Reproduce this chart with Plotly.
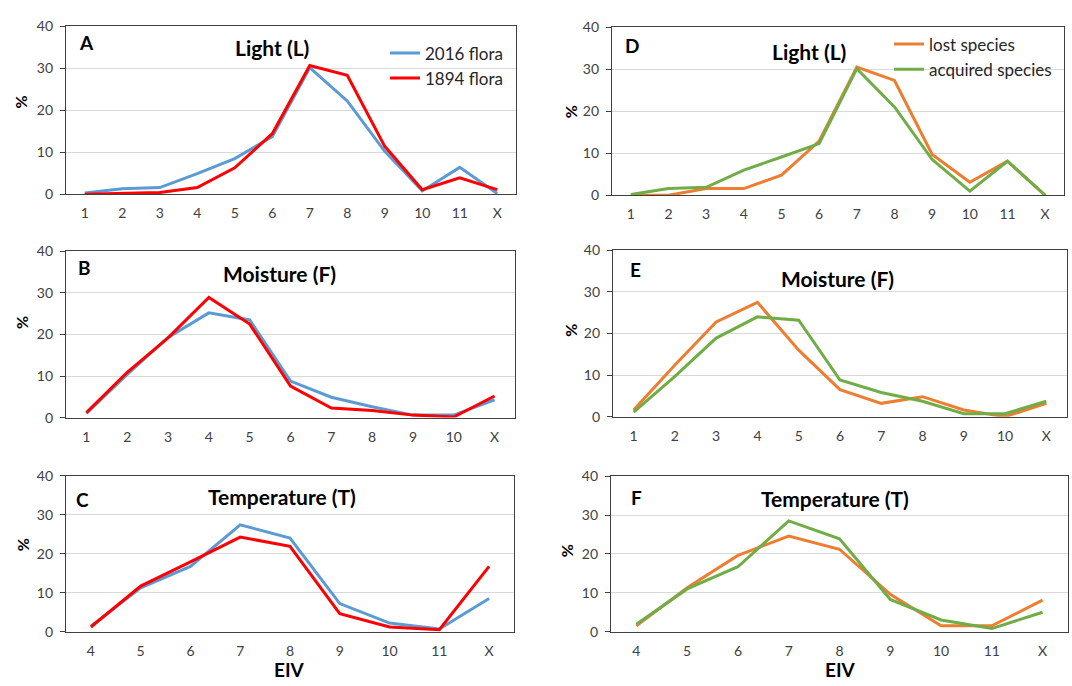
import plotly.graph_objects as go

# ---------------- data ----------------
cats_L = ["1", "2", "3", "4", "5", "6", "7", "8", "9", "10", "11", "X"]
cats_F = ["1", "2", "3", "4", "5", "6", "7", "8", "9", "10", "X"]
cats_T = ["4", "5", "6", "7", "8", "9", "10", "11", "X"]

flora2016_L = [0.3, 1.3, 1.6, 4.9, 8.5, 13.7, 30.1, 22.2, 10.2, 0.8, 6.4, 0.2]
flora1894_L = [0.0, 0.2, 0.4, 1.6, 6.3, 14.4, 30.6, 28.3, 11.4, 1.1, 3.9, 1.1]
flora2016_F = [1.0, 10.4, 19.3, 25.2, 23.5, 8.8, 4.9, 2.6, 0.6, 0.6, 4.3]
flora1894_F = [1.2, 10.9, 19.2, 28.9, 22.5, 7.6, 2.3, 1.7, 0.6, 0.15, 5.2]
flora2016_T = [1.4, 11.25, 16.75, 27.4, 24.0, 7.2, 2.2, 0.7, 8.5]
flora1894_T = [1.2, 11.7, 17.9, 24.25, 21.9, 4.6, 1.2, 0.5, 16.75]

lost_L = [0.0, 0.0, 1.6, 1.6, 4.8, 12.9, 30.5, 27.3, 9.7, 3.1, 8.1, 0.0]
acq_L = [0.2, 1.6, 1.9, 6.0, 9.1, 12.3, 30.1, 21.0, 8.5, 1.0, 8.1, 0.0]
lost_F = [1.6, 12.4, 22.8, 27.5, 16.0, 6.5, 3.2, 4.8, 1.6, 0.0, 3.2]
acq_F = [1.1, 9.7, 18.9, 24.0, 23.2, 8.8, 5.8, 3.7, 0.7, 0.7, 3.7]
lost_T = [1.5, 11.3, 19.6, 24.6, 21.2, 9.6, 1.5, 1.5, 8.1]
acq_T = [1.9, 11.0, 16.7, 28.5, 23.9, 8.3, 3.0, 0.8, 5.0]

panel_letters = ["A", "B", "C", "D", "E", "F"]
panel_titles = ["Light (L)", "Moisture (F)", "Temperature (T)",
                "Light (L)", "Moisture (F)", "Temperature (T)"]
y_ticks = [0, 10, 20, 30, 40]

C_BLUE = "#5B9BD5"
C_RED = "#FF0000"
C_ORANGE = "#ED7D31"
C_GREEN = "#70AD47"

W, H = 1072, 686
FONT = "Lato"
AX = "#404040"

# panel boxes in pixels: (left, right, top, bottom)
boxes = [
    (66, 516, 17.5, 190),
    (66, 515, 248.5, 419),
    (66, 514, 478.5, 638.5),
    (612, 1064, 18.5, 191),
    (613, 1067, 247.5, 418),
    (611, 1068, 479, 638.5),
]

def px_x(v):
    return v / W

def px_y(v):
    return 1 - v / H

fig = go.Figure()

panels = [
    (cats_L, [("2016 flora", flora2016_L, C_BLUE), ("1894 flora", flora1894_L, C_RED)]),
    (cats_F, [("2016 flora", flora2016_F, C_BLUE), ("1894 flora", flora1894_F, C_RED)]),
    (cats_T, [("2016 flora", flora2016_T, C_BLUE), ("1894 flora", flora1894_T, C_RED)]),
    (cats_L, [("lost species", lost_L, C_ORANGE), ("acquired species", acq_L, C_GREEN)]),
    (cats_F, [("lost species", lost_F, C_ORANGE), ("acquired species", acq_F, C_GREEN)]),
    (cats_T, [("lost species", lost_T, C_ORANGE), ("acquired species", acq_T, C_GREEN)]),
]

layout_axes = {}
for i, ((cats, series), box) in enumerate(zip(panels, boxes)):
    n = i + 1
    xa = "x" if n == 1 else f"x{n}"
    ya = "y" if n == 1 else f"y{n}"
    for name, vals, col in series:
        leg = "legend" if i < 3 else "legend2"
        show = i in (0, 3)
        fig.add_trace(go.Scatter(
            x=cats, y=vals, mode="lines", name=name,
            line=dict(color=col, width=3),
            xaxis=xa, yaxis=ya, legend=leg, showlegend=show,
        ))
    l, r, t, b = box
    layout_axes[f"xaxis{'' if n == 1 else n}"] = dict(
        type="category", categoryorder="array", categoryarray=cats,
        range=[-0.5, len(cats) - 0.5],
        domain=[px_x(l), px_x(r)], anchor=ya,
        showline=True, mirror=True, linecolor=AX, linewidth=1.3,
        ticks="", showgrid=False, zeroline=False,
        tickfont=dict(family=FONT, size=14, color=AX),
        ticklabelstandoff=6,
    )
    layout_axes[f"yaxis{'' if n == 1 else n}"] = dict(
        range=[0, 40], tickvals=y_ticks,
        domain=[px_y(b), px_y(t)], anchor=xa,
        showline=True, mirror=True, linecolor=AX, linewidth=1.3,
        ticks="outside", ticklen=5, tickcolor=AX,
        showgrid=True, gridcolor="#D9D9D9", gridwidth=1, zeroline=False,
        tickfont=dict(family=FONT, size=14, color=AX),
        ticklabelstandoff=4,
    )

annotations = []
letter_pos = [(86, 34.5), (84, 265), (82.5, 502.5), (632, 37.5), (635.5, 267.5), (636.5, 500.5)]
title_pos = [(272, 39.5), (279, 271.5), (282, 500), (809, 43.5), (837, 276), (835, 501.5)]
pct_pos = [(21, 96), (570, 106), (21, 322), (571, 330), (22, 550), (566, 556)]
for k in range(6):
    lx, ly = letter_pos[k]
    annotations.append(dict(text=f"<b>{panel_letters[k]}</b>", x=px_x(lx), y=px_y(ly),
                            xref="paper", yref="paper", showarrow=False,
                            xanchor="center", yanchor="middle",
                            font=dict(family=FONT, size=19, color="#000000")))
    tx, ty = title_pos[k]
    annotations.append(dict(text=f"<b>{panel_titles[k]}</b>", x=px_x(tx), y=px_y(ty),
                            xref="paper", yref="paper", showarrow=False,
                            xanchor="center", yanchor="middle",
                            font=dict(family=FONT, size=21, color="#000000")))
    px, py = pct_pos[k]
    annotations.append(dict(text="<b>%</b>", x=px_x(px), y=px_y(py),
                            xref="paper", yref="paper", showarrow=False,
                            xanchor="center", yanchor="middle", textangle=-90,
                            font=dict(family=FONT, size=16, color="#000000")))
for ex, ey in [(289, 677), (840, 677)]:
    annotations.append(dict(text="<b>EIV</b>", x=px_x(ex), y=px_y(ey),
                            xref="paper", yref="paper", showarrow=False,
                            xanchor="center", yanchor="middle",
                            font=dict(family=FONT, size=19, color="#000000")))

fig.update_layout(
    width=W, height=H, autosize=False,
    margin=dict(l=0, r=0, t=0, b=0),
    paper_bgcolor="white", plot_bgcolor="white",
    annotations=annotations,
    legend=dict(x=px_x(385), y=px_y(27), xanchor="left", yanchor="top",
                bgcolor="rgba(0,0,0,0)", itemwidth=30, tracegroupgap=0,
                font=dict(family=FONT, size=17, color="#262626")),
    legend2=dict(x=px_x(889), y=px_y(18), xanchor="left", yanchor="top",
                 bgcolor="rgba(0,0,0,0)", itemwidth=30, tracegroupgap=0,
                 font=dict(family=FONT, size=17, color="#262626")),
    **layout_axes,
)

fig.write_html("out.html")
